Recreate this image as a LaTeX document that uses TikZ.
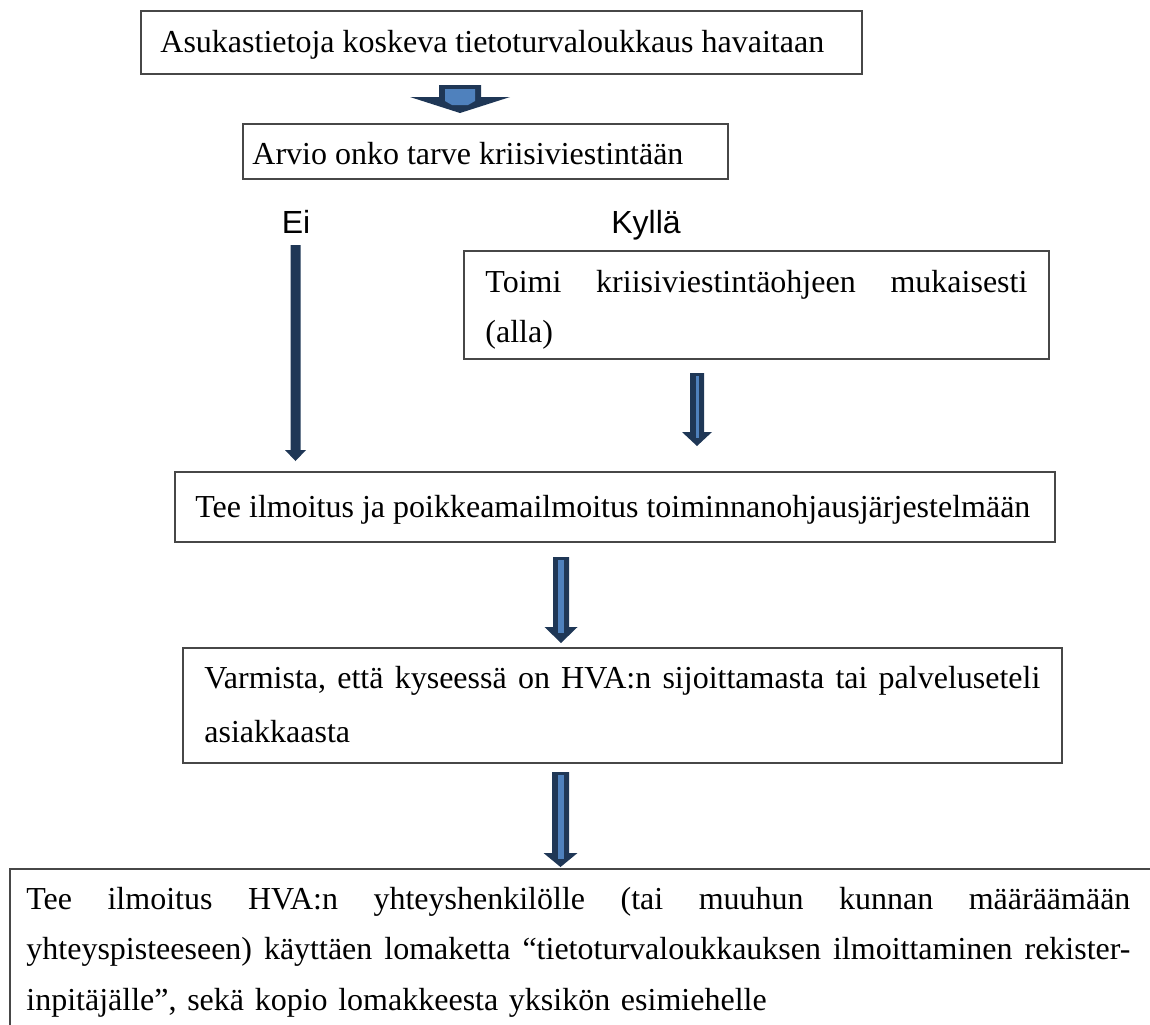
\documentclass[tikz,border=0pt]{standalone}
\usepackage{fontspec}
\setmainfont{Liberation Serif}
\newfontfamily\labelsans{Liberation Sans}
\usetikzlibrary{calc}
\definecolor{navy}{HTML}{1F3756}
\definecolor{lightblue}{HTML}{4F81BD}
\definecolor{boxline}{HTML}{474747}
% #1 start, #2 tip, #3 shaft half width, #4 head half width, #5 head length
\newcommand\navyarrow[5]{%
  \fill[navy] ($(#1)+(-#3,0)$) -- ($(#1)+(#3,0)$) -- ($(#2)+(#3,-#5)$) -- ($(#2)+(#4,-#5)$)
    -- (#2) -- ($(#2)+(-#4,-#5)$) -- ($(#2)+(-#3,-#5)$) -- cycle;}
% #1 start, #2 tip, #3 stripe half width, #4 head length
\newcommand\navystripe[4]{%
  \fill[lightblue] ($(#1)+(-#3,3)$) rectangle ($(#2)+(#3,-#4+6)$);}
\begin{document}
\begin{tikzpicture}[x=0.5pt,y=-0.5pt,
  box/.style={draw=boxline, line width=0.9pt, rectangle, inner sep=0pt, anchor=north west},
  txt/.style={inner sep=0pt, anchor=base west, align=left, font=\fontsize{16pt}{25pt}\selectfont},
  lbl/.style={inner sep=0pt, anchor=base, font=\labelsans\fontsize{16pt}{19pt}\selectfont}]
\useasboundingbox (0,0) rectangle (1150,1024);
\clip (0,0) rectangle (1150,1024);

\node[box, minimum width=360.5pt, minimum height=31.5pt] (b1) at (140,10) {};
\node[txt] (t1) at (160,52) {Asukastietoja koskeva tietoturvaloukkaus havaitaan};

\node[box, minimum width=242.5pt, minimum height=27.5pt] (b2) at (242,123) {};
\node[txt] (t2) at (252,164) {Arvio onko tarve kriisiviestintään};

\node[lbl] (ei) at (296,233) {Ei};
\node[lbl] (kylla) at (646,233) {Kyllä};

\node[box, minimum width=292.5pt, minimum height=54pt] (b3) at (463,250) {};
\node[txt, text width=271pt] (t3) at (485,292) {Toimi\hfill kriisiviestintäohjeen\hfill mukaisesti\\(alla)};

\node[box, minimum width=440pt, minimum height=35pt] (b4) at (174,471) {};
\node[txt] (t4) at (195,517) {Tee ilmoitus ja poikkeamailmoitus toiminnanohjausjärjestelmään};

\node[box, minimum width=439.5pt, minimum height=57.5pt] (b5) at (182,647) {};
\node[txt, text width=418pt, font=\fontsize{16pt}{27pt}\selectfont] (t5) at (204,688) {Varmista,\hfill että\hfill kyseessä\hfill on\hfill HVA:n\hfill sijoittamasta\hfill tai\hfill palveluseteli\\asiakkaasta};

\node[box, minimum width=600pt, minimum height=100pt] (b6) at (9,868) {};
\node[txt, text width=552pt, font=\fontsize{16pt}{25.25pt}\selectfont] (t6) at (26,909) {Tee\hfill ilmoitus\hfill HVA:n\hfill yhteyshenkilölle\hfill (tai\hfill muuhun\hfill kunnan\hfill määräämään\\yhteyspisteeseen)\hfill käyttäen\hfill lomaketta\hfill “tietoturvaloukkauksen\hfill ilmoittaminen\hfill rekister-\\inpitäjälle”, sekä kopio lomakkeesta yksikön esimiehelle};

% block arrow b1 -> b2
\coordinate (a1s) at (460,85);
\coordinate (a1e) at (460,113);
\fill[navy] ($(a1s)+(-21,0)$) -- ($(a1s)+(21,0)$) -- ($(a1s)+(21,12)$) -- ($(a1s)+(50,12)$)
  -- (a1e) -- ($(a1s)+(-50,12)$) -- ($(a1s)+(-21,12)$) -- cycle;
\fill[lightblue] ($(a1s)+(-15,4)$) -- ($(a1s)+(15,4)$) -- ($(a1s)+(15,16)$) -- ($(a1e)+(8,-8)$)
  -- ($(a1e)+(-8,-8)$) -- ($(a1s)+(-15,16)$) -- cycle;

% Ei arrow b2 -> b4
\coordinate (eis) at (295.5,245);
\coordinate (eie) at (295.5,461);
\navyarrow{eis}{eie}{5}{10.5}{11}

% Kylla arrow b3 -> b4
\coordinate (kys) at (697,373);
\coordinate (kye) at (697,446);
\navyarrow{kys}{kye}{7}{15}{14}
\navystripe{kys}{kye}{1.5}{14}

% b4 -> b5
\coordinate (a2s) at (561,557);
\coordinate (a2e) at (561,643);
\navyarrow{a2s}{a2e}{8}{16.5}{16}
\navystripe{a2s}{a2e}{3}{16}

% b5 -> b6
\coordinate (a3s) at (560.5,772);
\coordinate (a3e) at (560.5,867);
\navyarrow{a3s}{a3e}{8.5}{17}{14}
\navystripe{a3s}{a3e}{3}{14}
\end{tikzpicture}
\end{document}
